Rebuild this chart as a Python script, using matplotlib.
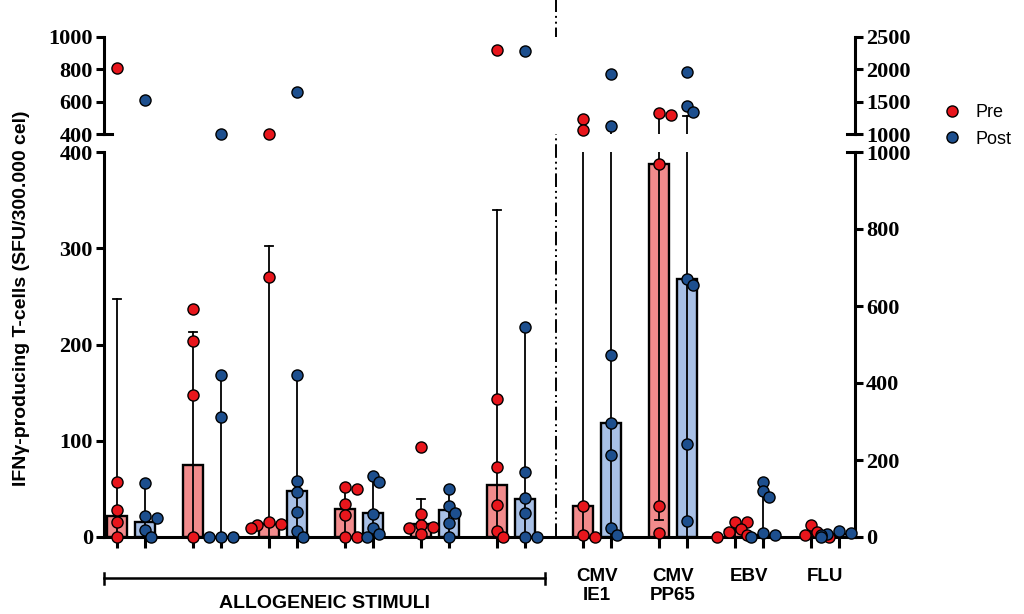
import numpy as np
import matplotlib.pyplot as plt
import matplotlib.transforms as mtransforms
from matplotlib.lines import Line2D

# ---- values ----
# allogeneic stimuli: left axis (upper part 400-1000, lower part 0-400)
allo_pre_points = [
    [810, 57, 28, 16, 0],
    [237, 204, 148, 0],
    [400, 270, 16, 14, 12, 9],
    [52, 50, 34, 23, 0, 0],
    [93, 24, 12, 10, 9, 3],
    [920, 143, 73, 33, 6, 0],
]
allo_pre_bar = [22, 75, 13, 29, 13, 54]
allo_pre_hi = [247, 213, 302, 50, 40, 340]

allo_post_points = [
    [612, 56, 22, 20, 7, 0],
    [400, 168, 125, 0, 0, 0],
    [660, 168, 58, 47, 26, 6, 0],
    [63, 57, 24, 9, 3, 0],
    [50, 32, 25, 15, 0],
    [915, 218, 68, 41, 25, 0, 0],
]
allo_post_bar = [16, 0, 48, 25, 28, 40]
allo_post_hi = [56, 168, 168, 62, 49, 218]

# viral antigens: right axis (upper part 1000-2500, lower part 0-1000)
viral_labels = ['CMV\nIE1', 'CMV\nPP65', 'EBV', 'FLU']
viral_pre_points = [
    [1231, 1066, 80, 5, 0],
    [1332, 1297, 970, 80, 10],
    [40, 38, 20, 12, 5, 0],
    [32, 12, 5, 0],
]
viral_pre_bar = [80, 970, 18, 8]
viral_pre_lo = [0, 45, 0, 0]
viral_pre_hi = [1050, 1300, 38, 30]

viral_post_points = [
    [1923, 1128, 473, 297, 213, 24, 5],
    [1954, 1435, 1338, 670, 654, 242, 42],
    [144, 120, 105, 10, 5, 0],
    [15, 10, 8, 5, 0],
]
viral_post_bar = [297, 670, 5, 8]
viral_post_hi = [1128, 1280, 145, 15]

RED = '#e8161c'
BLUE = '#1d4f8e'
RED_BAR = '#f28b8c'
BLUE_BAR = '#a8c0e6'

SERIF = 'Liberation Serif'
SANS = 'Liberation Sans'

fig = plt.figure(figsize=(10.24, 6.14), dpi=100)
L, R = 104 / 1024, 855 / 1024
ax_lo = fig.add_axes([L, 1 - 537 / 614, R - L, (537 - 152) / 614])
ax_up = fig.add_axes([L, 1 - 134 / 614, R - L, (134 - 37) / 614])
ax_lo_r = ax_lo.twinx()
ax_up_r = ax_up.twinx()

for a in (ax_lo, ax_up):
    a.set_xlim(-0.355, 9.526)
ax_lo.set_ylim(0, 400)
ax_up.set_ylim(400, 1000)
ax_lo_r.set_ylim(0, 1000)
ax_up_r.set_ylim(1000, 2500)

allo_x = np.arange(6)
viral_x = np.arange(4) + 6.13
off = 0.184
bw = 0.26
cap = 0.055


def swarm(ax, cx, vals, d=10):
    placed = []
    xs = []
    inv = ax.transData.inverted()
    for v in vals:
        px, py = ax.transData.transform((cx, v))
        x = px
        for k in [0, 1, -1, 2, -2, 3, -3]:
            x = px + k * d * 0.6
            if all((x - a) ** 2 + (py - b) ** 2 >= 0.6 * d * d for a, b in placed):
                break
        placed.append((x, py))
        xs.append(inv.transform((x, py))[0])
    return xs


def draw_group(ax_low, ax_high, cx, pts, bar, lo, hi, col, barcol, brk):
    ax_low.bar(cx, bar, bw, color=barcol, edgecolor='black', linewidth=1.7, zorder=2)
    ax_low.plot([cx, cx], [lo, hi], color='black', lw=1.3, zorder=3)
    if hi <= ax_low.get_ylim()[1]:
        ax_low.plot([cx - cap, cx + cap], [hi, hi], color='black', lw=1.3, zorder=3)
    if lo > 0:
        ax_low.plot([cx - cap, cx + cap], [lo, lo], color='black', lw=1.3, zorder=3)
    if hi > brk:
        ax_high.plot([cx, cx], [brk, hi], color='black', lw=1.3, zorder=3)
        ax_high.plot([cx - cap, cx + cap], [hi, hi], color='black', lw=1.3, zorder=3)
    low_vals = [v for v in pts if v < brk]
    high_vals = [v for v in pts if v >= brk]
    for a, vals in ((ax_low, low_vals), (ax_high, high_vals)):
        if vals:
            xs = swarm(a, cx, vals)
            a.plot(xs, vals, 'o', ms=8, mfc=col, mec='black', mew=1.0,
                   zorder=5, clip_on=False)


for i in range(6):
    draw_group(ax_lo, ax_up, allo_x[i] - off, allo_pre_points[i], allo_pre_bar[i],
               0, allo_pre_hi[i], RED, RED_BAR, 400)
    draw_group(ax_lo, ax_up, allo_x[i] + off, allo_post_points[i], allo_post_bar[i],
               0, allo_post_hi[i], BLUE, BLUE_BAR, 400)
for i in range(4):
    draw_group(ax_lo_r, ax_up_r, viral_x[i] - off, viral_pre_points[i], viral_pre_bar[i],
               viral_pre_lo[i], viral_pre_hi[i], RED, RED_BAR, 1000)
    draw_group(ax_lo_r, ax_up_r, viral_x[i] + off, viral_post_points[i], viral_post_bar[i],
               0, viral_post_hi[i], BLUE, BLUE_BAR, 1000)

# spines and ticks
for a in (ax_lo, ax_up, ax_lo_r, ax_up_r):
    for s in a.spines.values():
        s.set_visible(False)
        s.set_linewidth(2.2)
    a.tick_params(width=2.2, length=6, labelsize=16, pad=2)
ax_lo.spines['left'].set_visible(True)
ax_lo.spines['bottom'].set_visible(True)
ax_up.spines['left'].set_visible(True)
ax_lo_r.spines['right'].set_visible(True)
ax_up_r.spines['right'].set_visible(True)

ax_lo.set_yticks([0, 100, 200, 300, 400])
ax_up.set_yticks([400, 600, 800, 1000])
ax_lo_r.set_yticks([0, 200, 400, 600, 800, 1000])
ax_up_r.set_yticks([1000, 1500, 2000, 2500])
for a in (ax_lo, ax_up, ax_lo_r, ax_up_r):
    for lab in a.get_yticklabels():
        lab.set_fontfamily(SERIF)
        lab.set_fontweight('bold')

ax_up.tick_params(axis='x', bottom=False, labelbottom=False)
ax_up_r.tick_params(axis='x', bottom=False, labelbottom=False)
tick_pos = np.sort(np.concatenate([allo_x - off, allo_x + off, viral_x - off, viral_x + off]))
ax_lo.set_xticks(tick_pos)
ax_lo.set_xticklabels([])
ax_lo.tick_params(axis='x', length=8)

# break marks
ax_up.plot([0, 0.01], [0, 0], transform=ax_up.transAxes, color='black', lw=2.2, clip_on=False)
ax_up_r.plot([1, 0.99], [0, 0], transform=ax_up_r.transAxes, color='black', lw=2.2, clip_on=False)
ax_lo_r.plot([1, 0.99], [1, 1], transform=ax_lo_r.transAxes, color='black', lw=2.2, clip_on=False)

# separator between allogeneic and viral stimuli
ax_lo.axvline(5.59, ymin=0, ymax=537 / 385, color='black', lw=1.4,
              ls=(0, (7, 2, 1, 2, 1, 2)), clip_on=False)

# group labels below the axis
trans = mtransforms.blended_transform_factory(ax_lo.transData, ax_lo.transAxes)
ax_lo.plot([-0.355, 5.45], [-0.107, -0.107], color='black', lw=1.8, transform=trans,
           clip_on=False)
for xe in (-0.355, 5.45):
    ax_lo.plot([xe, xe], [-0.093, -0.121], color='black', lw=1.8, transform=trans,
               clip_on=False)
ax_lo.text(2.55, -0.172, 'ALLOGENEIC STIMULI', transform=trans, ha='center', va='center',
           fontsize=14, family=SANS, fontweight='bold')
for xv, lab in zip(viral_x, viral_labels):
    ax_lo.text(xv, -0.08, lab, transform=trans, ha='center', va='top',
               fontsize=13.5, family=SANS, fontweight='bold', linespacing=1.2)

fig.text(22 / 1024, 1 - 298 / 614, 'IFNγ-producing T-cells (SFU/300.000 cel)',
         rotation=90, ha='center', va='center', fontsize=14, fontweight='bold', family=SANS)

handles = [Line2D([], [], ls='none', marker='o', ms=8, mfc=RED, mec='black'),
           Line2D([], [], ls='none', marker='o', ms=8, mfc=BLUE, mec='black')]
fig.legend(handles, ['Pre', 'Post'], loc='center left',
           bbox_to_anchor=(938 / 1024, 1 - 126 / 614), frameon=False,
           prop={'family': SANS, 'size': 13}, handlelength=1.0, handletextpad=0.8,
           labelspacing=0.5, borderaxespad=0, borderpad=0.3)

fig.savefig('out.png', dpi=100)
